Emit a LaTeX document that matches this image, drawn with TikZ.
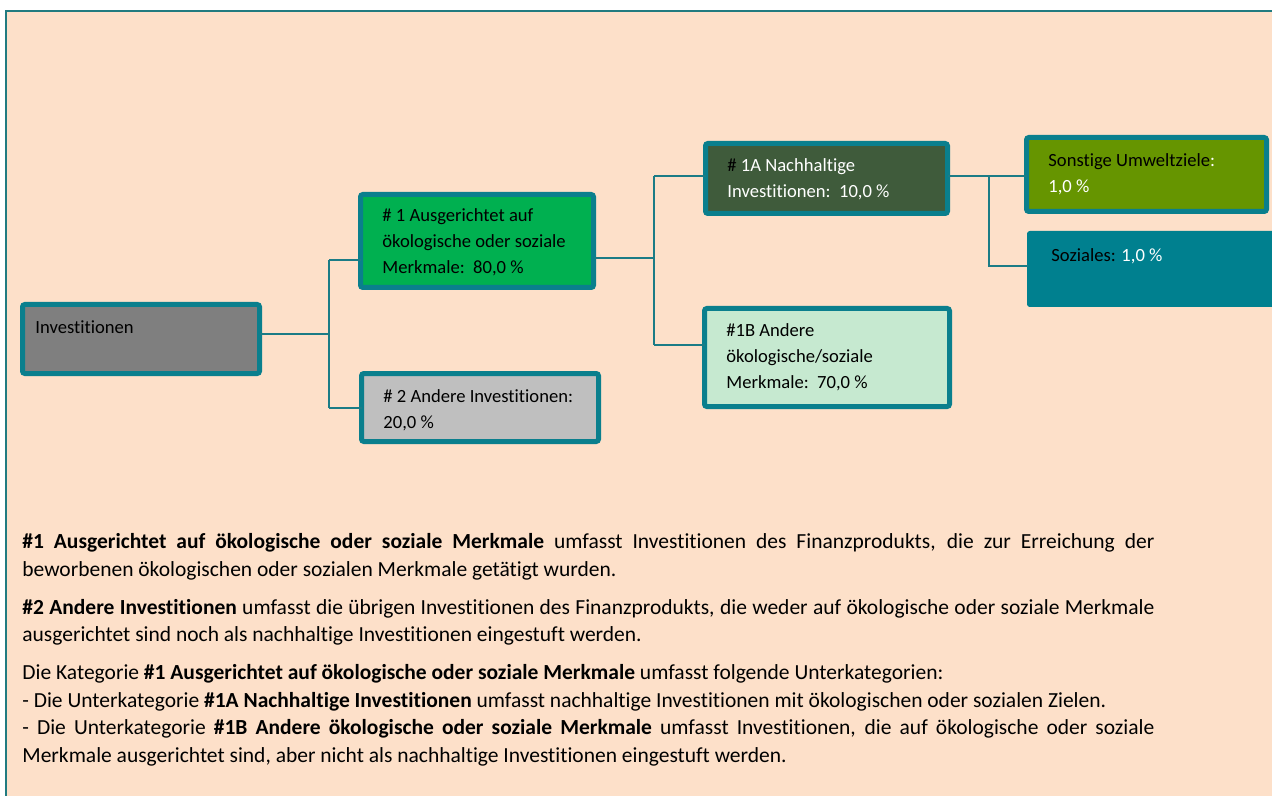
\documentclass[tikz,border=0pt]{standalone}
\usepackage{fontspec}
\setmainfont{Carlito}[RawFeature={-liga;-clig;-dlig;-rlig;-calt;-ccmp}]
\definecolor{peach}{HTML}{FDE0C9}
\definecolor{frameteal}{HTML}{217B80}
\definecolor{boxteal}{HTML}{0A7F8D}
\definecolor{lineteal}{HTML}{1B7C86}
\definecolor{invgray}{HTML}{7F7F7F}
\definecolor{brightgreen}{HTML}{00B050}
\definecolor{lightgrayfill}{HTML}{BFBFBF}
\definecolor{darkgreen}{HTML}{3F5B3B}
\definecolor{mint}{HTML}{C6E9D0}
\definecolor{olive}{HTML}{669500}
\definecolor{sozteal}{HTML}{00808F}
\begin{document}
\begin{tikzpicture}[x=0.5pt,y=-0.5pt,
  box/.style={rectangle, draw=boxteal, line width=2.5pt, rounded corners=1.2pt, inner sep=0pt, outer sep=0pt},
  conn/.style={draw=lineteal, line width=1pt},
  btxt/.style={anchor=north west, inner sep=0pt, align=left, font=\fontsize{9.3}{13}\selectfont},
]
\useasboundingbox (0,0) rectangle (1272,796);
\clip (0,0) rectangle (1272,796);
\fill[white] (0,0) rectangle (1272,796);
\draw[fill=peach, draw=frameteal, line width=1pt] (6,11) rectangle (1290,810);

% boxes
\node[box, fill=invgray, minimum width=118.5pt, minimum height=34.5pt] (inv) at (141,339) {};
\node[box, fill=brightgreen, minimum width=116.5pt, minimum height=46.5pt] (n1) at (477,241) {};
\node[box, fill=lightgrayfill, minimum width=118.5pt, minimum height=34pt] (n2) at (480,407.5) {};
\node[box, fill=darkgreen, minimum width=121pt, minimum height=35pt] (n1a) at (826.5,178.5) {};
\node[box, fill=mint, minimum width=122.5pt, minimum height=49pt] (n1b) at (827,357.5) {};
\node[box, fill=olive, minimum width=120pt, minimum height=37pt] (son) at (1146.5,174.5) {};
\node[box, fill=sozteal, draw=sozteal, line width=0.5pt, minimum width=126pt, minimum height=37.5pt] (soz) at (1153.5,269) {};

% connectors
\coordinate (a1) at (329,334);
\coordinate (a2) at (329,260);
\coordinate (a3) at (329,408);
\draw[conn] (inv.east |- a1) -- (a1);
\draw[conn] (a2) -- (a3);
\draw[conn] (a2) -- (n1.west |- a2);
\draw[conn] (a3) -- (n2.west |- a3);
\coordinate (b1) at (654,258);
\coordinate (b2) at (654,176);
\coordinate (b3) at (654,345);
\draw[conn] (n1.east |- b1) -- (b1);
\draw[conn] (b2) -- (b3);
\draw[conn] (b2) -- (n1a.west |- b2);
\draw[conn] (b3) -- (n1b.west |- b3);
\coordinate (c1) at (989,176);
\coordinate (c2) at (989,266);
\draw[conn] (n1a.east |- c1) -- (son.west |- c1);
\draw[conn] (c1) -- (c2) -- (soz.west |- c2);

% box texts
\node[btxt] (tinv) at (35,320) {Investitionen};
\node[btxt] (tn1) at (382,208.5) {\# 1 Ausgerichtet auf\\ökologische oder soziale\\Merkmale:\ \ 80,0 \%};
\node[btxt] (tn2) at (383,389) {\# 2 Andere Investitionen:\\20,0 \%};
\node[btxt, text=white] (tn1a) at (727,158) {{\color{black}\#} 1A Nachhaltige\\Investitionen:\ \ 10,0 \%};
\node[btxt] (tn1b) at (726,323) {\#1B Andere\\ökologische/soziale\\Merkmale:\ \ 70,0 \%};
\node[btxt] (tson) at (1048,153) {Sonstige Umweltziele{\color{white}:}\\{\color{white}1,0 \%}};
\node[btxt] (tsoz) at (1051,248) {Soziales: {\color{white}1,0 \%}};

% explanatory text
\node[anchor=north west, inner sep=0pt, align=left, font=\fontsize{10.75}{13.8}\selectfont] (expl) at (22,533) {%
\makebox[566pt][s]{\textbf{\#1 Ausgerichtet auf ökologische oder soziale Merkmale} umfasst Investitionen des Finanzprodukts, die zur Erreichung der}\\
beworbenen ökologischen oder sozialen Merkmale getätigt wurden.\\[5.2pt]
\makebox[566pt][s]{\textbf{\#2 Andere Investitionen} umfasst die übrigen Investitionen des Finanzprodukts, die weder auf ökologische oder soziale Merkmale}\\
ausgerichtet sind noch als nachhaltige Investitionen eingestuft werden.\\[5.2pt]
Die Kategorie \textbf{\#1 Ausgerichtet auf ökologische oder soziale Merkmale} umfasst folgende Unterkategorien:\\
- Die Unterkategorie \textbf{\#1A Nachhaltige Investitionen} umfasst nachhaltige Investitionen mit ökologischen oder sozialen Zielen.\\
\makebox[566pt][s]{- Die Unterkategorie \textbf{\#1B Andere ökologische oder soziale Merkmale} umfasst Investitionen, die auf ökologische oder soziale}\\
Merkmale ausgerichtet sind, aber nicht als nachhaltige Investitionen eingestuft werden.};
\end{tikzpicture}
\end{document}
